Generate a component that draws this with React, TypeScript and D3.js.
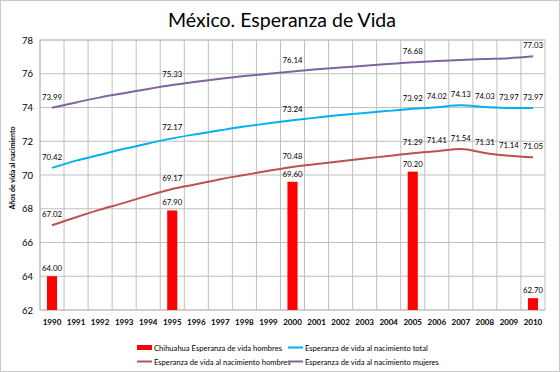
import React from 'react';
import * as d3 from 'd3';

const years = d3.range(1990, 2011).map(String);

// Chihuahua (bars): only a few years have values
const barYears = ['1990', '1995', '2000', '2005', '2010'];
const barValues = [64.0, 67.9, 69.6, 70.2, 62.7];

const totalValues = [70.42, 70.85, 71.2, 71.55, 71.87, 72.17, 72.42, 72.65, 72.87, 73.06, 73.24, 73.4, 73.55, 73.68, 73.8, 73.92, 74.02, 74.13, 74.03, 73.97, 73.97];
const menValues = [67.02, 67.5, 67.95, 68.35, 68.78, 69.17, 69.45, 69.75, 70.0, 70.25, 70.48, 70.65, 70.82, 70.98, 71.13, 71.29, 71.41, 71.54, 71.31, 71.14, 71.05];
const womenValues = [73.99, 74.3, 74.6, 74.85, 75.1, 75.33, 75.52, 75.7, 75.86, 76.0, 76.14, 76.26, 76.37, 76.48, 76.58, 76.68, 76.75, 76.82, 76.87, 76.92, 77.03];

const totalLabelYears = ['1990', '1995', '2000', '2005', '2006', '2007', '2008', '2009', '2010'];
const menLabelYears = ['1990', '1995', '2000', '2005', '2006', '2007', '2008', '2009', '2010'];
const womenLabelYears = ['1990', '1995', '2000', '2005', '2010'];

const yTicks = [62, 64, 66, 68, 70, 72, 74, 76, 78];

const W = 560;
const H = 372;
const font = 'Lato, "Open Sans", sans-serif';

export default function App() {
  const margin = { top: 40, right: 15, bottom: 62, left: 40 };
  const x = d3.scaleBand().domain(years).range([margin.left, W - margin.right]);
  const y = d3.scaleLinear().domain([62, 78]).range([H - margin.bottom, margin.top]);
  const cx = (yr: string) => (x(yr) ?? 0) + x.bandwidth() / 2;
  const barW = x.bandwidth() * 0.42;

  const line = d3.line<number>()
    .x((_, i) => cx(years[i]))
    .y(d => y(d))
    .curve(d3.curveMonotoneX);

  const series = [
    { name: 'Esperanza de vida al nacimiento total', values: totalValues, color: '#00B0F0', labels: totalLabelYears },
    { name: 'Esperanza de vida al nacimiento hombres', values: menValues, color: '#C0504D', labels: menLabelYears },
    { name: 'Esperanza de vida al nacimiento mujeres', values: womenValues, color: '#8064A2', labels: womenLabelYears },
  ];

  const x0 = margin.left;
  const x1 = W - margin.right;
  const y0 = margin.top;
  const y1 = H - margin.bottom;

  return (
    <svg width={W} height={H} style={{ position: 'absolute', left: 0, top: 0, background: '#fff' }} fontFamily={font}>
      <rect x={0.5} y={0.5} width={W - 1} height={H - 1} fill="#fff" stroke="#c8c8c8" />
      <text x={282} y={27} textAnchor="middle" fontSize={19.5} fill="#000">México. Esperanza de Vida</text>

      {/* grid */}
      {yTicks.map(t => (
        <line key={'h' + t} x1={x0} x2={x1} y1={y(t)} y2={y(t)} stroke="#bfbfbf" strokeWidth={1} />
      ))}
      {years.map(yr => (
        <line key={'v' + yr} x1={x(yr)} x2={x(yr)} y1={y0} y2={y1} stroke="#bfbfbf" strokeWidth={1} />
      ))}
      <rect x={x0} y={y0} width={x1 - x0} height={y1 - y0} fill="none" stroke="#bfbfbf" />

      {/* y ticks */}
      {yTicks.map(t => (
        <text key={'yt' + t} x={x0 - 7} y={y(t) + 3.5} textAnchor="end" fontSize={9.5} fill="#000">{t}</text>
      ))}
      <text transform={`translate(15,168) rotate(-90)`} textAnchor="middle" fontSize={7} fontWeight="bold" fill="#000">
        Años de vida al nacimiento
      </text>

      {/* x ticks */}
      {years.map(yr => (
        <text key={'xt' + yr} x={cx(yr)} y={y1 + 15} textAnchor="middle" fontSize={8} fontWeight="bold" fill="#000">{yr}</text>
      ))}

      {/* bars */}
      {barYears.map((yr, i) => (
        <g key={'b' + yr}>
          <rect x={cx(yr) - barW / 2} y={y(barValues[i])} width={barW} height={y1 - y(barValues[i])} fill="#FF0000" />
          <text x={cx(yr)} y={y(barValues[i]) - 5} textAnchor="middle" fontSize={7.8} fill="#000">{barValues[i].toFixed(2)}</text>
        </g>
      ))}

      {/* lines */}
      {series.map(s => (
        <g key={s.name}>
          <path d={line(s.values) ?? ''} fill="none" stroke={s.color} strokeWidth={2} />
          {s.labels.map(yr => {
            const v = s.values[years.indexOf(yr)];
            return (
              <text key={yr} x={cx(yr)} y={y(v) - 8} textAnchor="middle" fontSize={7.8} fill="#000">{v.toFixed(2)}</text>
            );
          })}
        </g>
      ))}

      {/* legend */}
      <g fontSize={7.6} fill="#000">
        <rect x={137} y={345} width={15} height={5} fill="#FF0000" />
        <text x={154} y={350.5}>Chihuahua Esperanza de vida hombres</text>
        <line x1={288} x2={303} y1={347.5} y2={347.5} stroke="#00B0F0" strokeWidth={2} />
        <text x={305} y={350.5}>{series[0].name}</text>
        <line x1={137} x2={152} y1={361.5} y2={361.5} stroke="#C0504D" strokeWidth={2} />
        <text x={154} y={364.5}>{series[1].name}</text>
        <line x1={288} x2={303} y1={361.5} y2={361.5} stroke="#8064A2" strokeWidth={2} />
        <text x={305} y={364.5}>{series[2].name}</text>
      </g>
    </svg>
  );
}
